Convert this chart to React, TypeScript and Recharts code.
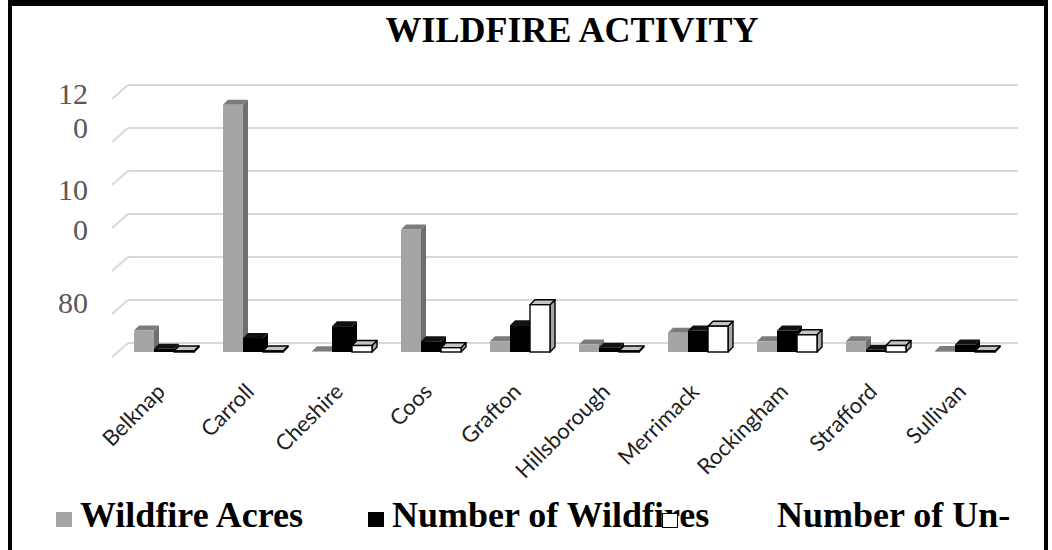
import { Bar, BarChart, CartesianGrid, XAxis, YAxis } from "recharts";

// counties along the x axis
const counties = [
  "Belknap",
  "Carroll",
  "Cheshire",
  "Coos",
  "Grafton",
  "Hillsborough",
  "Merrimack",
  "Rockingham",
  "Strafford",
  "Sullivan",
];

const wildfireAcres = [10, 115, 0.3, 57, 5, 3.5, 9, 5, 5, 0.5];
const numberOfWildfires = [1.5, 6.5, 12, 5, 12.5, 2, 10, 10, 1, 3.5];
const numberOfUn = [0.5, 0.5, 3, 2, 22, 0.5, 12, 8, 3, 0.5];

const seriesNames = ["Wildfire Acres", "Number of Wildfires", "Number of Un-"];

const yTicks = [0, 20, 40, 60, 80, 100, 120];
// the broken, wrapped tick labels as they appear in the source
const yTickText: Record<number, string[]> = {
  120: ["12", "0"],
  80: ["10", "0"],
  20: ["80"],
};

const data = counties.map((name, i) => ({
  name,
  acres: wildfireAcres[i],
  fires: numberOfWildfires[i],
  un: numberOfUn[i],
}));

const SERIF = '"Liberation Serif", "Times New Roman", serif';
const DEPTH = 5;
const SHIFT_X = -9;
const SHIFT_Y = 9;

type Faces = { front: string; side: string; top: string; stroke?: string };

function makeBox(f: Faces) {
  return (props: any) => {
    const { x, y, width, height } = props;
    if (x == null || y == null) return <g />;
    const fx = x + SHIFT_X;
    const fy = y + SHIFT_Y;
    const h = Math.max(height, 0);
    const sw = f.stroke ? 1.4 : 0;
    const st = f.stroke ?? "none";
    return (
      <g>
        <polygon
          points={`${fx + width},${fy} ${fx + width + DEPTH},${fy - DEPTH} ${fx + width + DEPTH},${fy + h - DEPTH} ${fx + width},${fy + h}`}
          fill={f.side}
          stroke={st}
          strokeWidth={sw}
          strokeLinejoin="round"
        />
        <polygon
          points={`${fx},${fy} ${fx + DEPTH},${fy - DEPTH} ${fx + width + DEPTH},${fy - DEPTH} ${fx + width},${fy}`}
          fill={f.top}
          stroke={st}
          strokeWidth={sw}
          strokeLinejoin="round"
        />
        <rect x={fx} y={fy} width={width} height={h} fill={f.front} stroke={st} strokeWidth={sw} />
      </g>
    );
  };
}

const greyBox = makeBox({ front: "#a5a5a5", side: "#6f6f6f", top: "#7c7c7c" });
const blackBox = makeBox({ front: "#000000", side: "#000000", top: "#111111" });
const whiteBox = makeBox({ front: "#ffffff", side: "#a6a6a6", top: "#c4c4c4", stroke: "#000000" });

function GridLine(props: any) {
  const { x1, y1, x2, y2 } = props;
  return (
    <g>
      <line x1={x1} y1={y1} x2={x2} y2={y2} stroke="#d9d9d9" strokeWidth={2} />
      <line x1={x1 - 16} y1={y1 + 14} x2={x1} y2={y1} stroke="#d9d9d9" strokeWidth={2} />
    </g>
  );
}

const Y_DY: Record<number, number[]> = { 120: [8, 42], 80: [18, 58], 20: [2] };

function YTick(props: any) {
  const { y, payload } = props;
  const lines = yTickText[payload.value];
  if (!lines) return <g />;
  const dys = Y_DY[payload.value] || [];
  return (
    <g>
      {lines.map((t, i) => (
        <text
          key={i}
          x={88}
          y={y + (dys[i] ?? 0)}
          textAnchor="end"
          dominantBaseline="central"
          fontFamily={SERIF}
          fontSize={30}
          fill="#595959"
        >
          {t}
        </text>
      ))}
    </g>
  );
}

function XTick(props: any) {
  const { x, payload } = props;
  return (
    <text
      transform={`translate(${x - 6},${393}) rotate(-45)`}
      textAnchor="end"
      fontFamily="Lato, 'Open Sans', sans-serif"
      fontSize={22}
      fill="#1f1f1f"
    >
      {payload.value}
    </text>
  );
}

const markerStyle = (bg: string, border?: string): React.CSSProperties => ({
  position: "absolute",
  width: 16,
  height: 15,
  background: bg,
  boxSizing: "border-box",
  border: border ? `1.5px solid ${border}` : "none",
});

const legendText: React.CSSProperties = {
  position: "absolute",
  top: 497,
  fontFamily: SERIF,
  fontWeight: "bold",
  fontSize: 36,
  lineHeight: "36px",
  color: "#000",
  whiteSpace: "nowrap",
};

export default function App() {
  return (
    <div style={{ position: "relative", width: 1052, height: 550, overflow: "hidden", background: "#fff" }}>
      <style>{"body{margin:0}"}</style>
      <div
        style={{
          position: "absolute",
          left: 8,
          top: 0,
          width: 1040,
          height: 600,
          border: "4px solid #000",
          borderTopWidth: 6,
          boxSizing: "border-box",
        }}
      />
      <div
        style={{
          position: "absolute",
          left: 572,
          top: 12,
          transform: "translateX(-50%)",
          fontFamily: SERIF,
          fontWeight: "bold",
          fontSize: 36,
          lineHeight: "36px",
          whiteSpace: "nowrap",
        }}
      >
        WILDFIRE ACTIVITY
      </div>
      <div style={{ position: "absolute", left: 0, top: 0 }}>
        <BarChart
          width={1052}
          height={550}
          data={data}
          margin={{ top: 85, right: 34, left: 0, bottom: 107 }}
          barGap={0}
          barSize={20}
        >
          <CartesianGrid vertical={false} horizontal={GridLine as any} />
          <XAxis dataKey="name" axisLine={false} tickLine={false} interval={0} height={100} tick={<XTick />} />
          <YAxis
            domain={[0, 120]}
            ticks={yTicks}
            width={128}
            axisLine={false}
            tickLine={false}
            tick={<YTick />}
          />
          <Bar dataKey="acres" name={seriesNames[0]} shape={greyBox} isAnimationActive={false} />
          <Bar dataKey="fires" name={seriesNames[1]} shape={blackBox} isAnimationActive={false} />
          <Bar dataKey="un" name={seriesNames[2]} shape={whiteBox} isAnimationActive={false} />
        </BarChart>
      </div>
      <div style={{ ...markerStyle("#a5a5a5"), left: 56, top: 512 }} />
      <div style={{ ...legendText, left: 80 }}>{seriesNames[0]}</div>
      <div style={{ ...markerStyle("#000"), left: 368, top: 512 }} />
      <div style={{ ...legendText, left: 392 }}>{seriesNames[1]}</div>
      <div style={{ ...legendText, left: 777 }}>{seriesNames[2]}</div>
      <div style={{ ...markerStyle("#fff", "#000"), left: 662, top: 513 }} />
    </div>
  );
}
